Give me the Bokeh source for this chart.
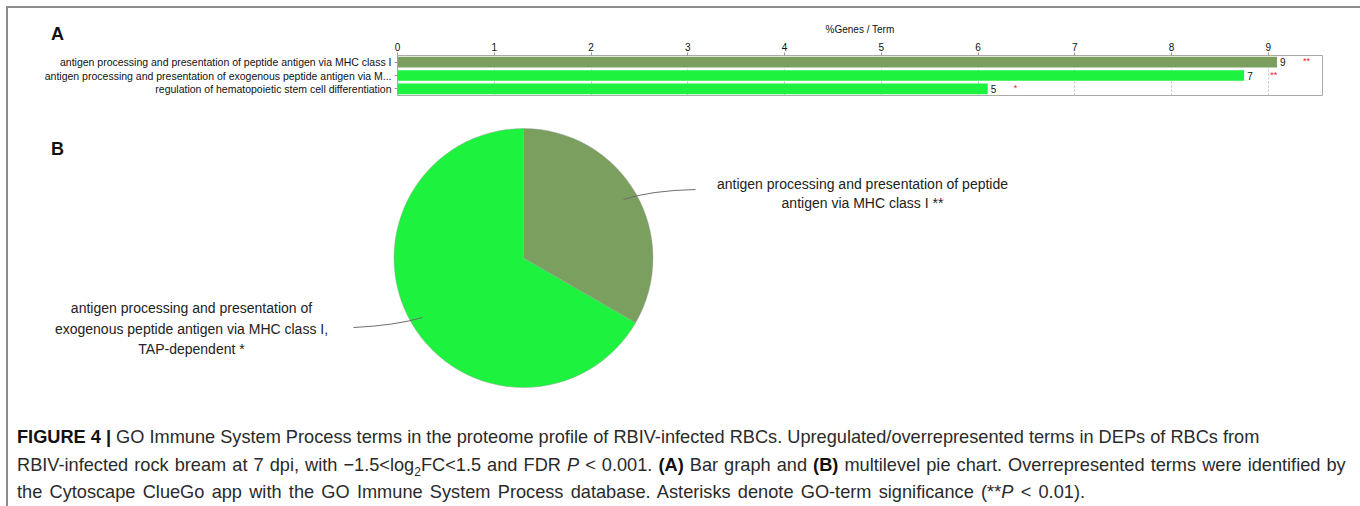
import numpy as np
from bokeh.plotting import figure
from bokeh.models import (ColumnDataSource, Range1d, FactorRange, LabelSet, Div)
from bokeh.layouts import column
from bokeh.core.properties import value
from bokeh.embed import file_html
from bokeh.resources import INLINE

# ---------------- data ----------------
terms = [
    "antigen processing and presentation of peptide antigen via MHC class I",
    "antigen processing and presentation of exogenous peptide antigen via M...",
    "regulation of hematopoietic stem cell differentiation",
]
pct_genes = [9.09, 8.75, 6.10]
gene_counts = ["9", "7", "5"]
signif = ["**", "**", "*"]
bar_colors = ["#7B9F5F", "#1DF23F"]  # group colours
term_group = [0, 1, 1]

pie_labels = [
    ["antigen processing and presentation of peptide", "antigen via MHC class I **"],
    ["antigen processing and presentation of", "exogenous peptide antigen via MHC class I,", "TAP-dependent *"],
]
pie_values = [1, 2]

FONT = value("Liberation Sans")
W = 1346

# ---------------- A: bar chart ----------------
src = ColumnDataSource(dict(
    term=terms, pct=pct_genes, count=gene_counts, sig=signif,
    color=[bar_colors[g] for g in term_group],
))

bar = figure(width=W, height=106, output_backend="svg", toolbar_location=None,
             y_range=FactorRange(*reversed(terms), range_padding=0),
             x_range=Range1d(0, 9.56), x_axis_location="above",
             min_border_left=389, min_border_right=32, min_border_top=47,
             min_border_bottom=19, border_fill_color=None)
bar.hbar(y="term", right="pct", height=0.8, color="color", line_color=None, source=src)
bar.add_layout(LabelSet(x="pct", y="term", text="count", x_offset=3, source=src,
                        text_baseline="middle", text_font=FONT,
                        text_font_size=value("10px"), text_color="#111"))
bar.add_layout(LabelSet(x="pct", y="term", text="sig", x_offset=26, y_offset=1, source=src,
                        text_baseline="middle", text_font=FONT,
                        text_font_size=value("9px"), text_color="#e8211f"))

xa = bar.xaxis[0]
xa.axis_label = "%Genes / Term"
xa.axis_label_text_font = "Liberation Sans"
xa.axis_label_text_font_size = "10px"
xa.axis_label_text_font_style = "normal"
xa.axis_label_text_color = "#111"
xa.axis_label_standoff = 5
xa.ticker.desired_num_ticks = 10
xa.major_label_text_font = "Liberation Sans"
xa.major_label_text_font_size = "10px"
xa.major_label_text_color = "#111"
xa.major_label_standoff = 2
xa.major_tick_in = 0
xa.major_tick_out = 3
xa.minor_tick_out = 0
xa.minor_tick_in = 0
xa.major_tick_line_color = "#999"
xa.axis_line_color = None

ya = bar.yaxis[0]
ya.major_label_text_font = "Liberation Sans"
ya.major_label_text_font_size = "10.5px"
ya.major_label_text_color = "#111"
ya.major_label_standoff = 3
ya.major_tick_in = 0
ya.major_tick_out = 3
ya.major_tick_line_color = "#999"
ya.axis_line_color = None

bar.xgrid.grid_line_color = "#c4c4c4"
bar.xgrid.grid_line_dash = "2 2"
bar.ygrid.grid_line_color = None
bar.outline_line_color = "#aaaaaa"
bar.outline_line_width = 1

# panel letter "A" (zero-height overlay above the bar chart)
panel_a = Div(width=W, height=0,
              styles={"position": "relative", "z-index": "5", "overflow": "visible",
                      "margin-bottom": "-5px"},
              text=("<div style=\"position:absolute;left:38px;top:11px;"
                    "font-family:'Liberation Sans',Arial,sans-serif;font-size:18px;"
                    "font-weight:bold;color:#111;line-height:20px\">A</div>"))

# ---------------- B: pie chart ----------------
H2 = 305
pie = figure(width=W, height=H2, output_backend="svg", toolbar_location=None,
             x_range=Range1d(0, W), y_range=Range1d(0, H2),
             min_border=0, outline_line_color=None)
pie.axis.visible = False
pie.grid.visible = False
for f in (bar, pie):
    try:
        f.frame_align = False
    except Exception:
        pass

vals = np.array(pie_values, dtype=float)
frac = np.cumsum(vals) / vals.sum()
start = np.pi / 2 - np.concatenate([[0], frac[:-1]]) * 2 * np.pi
end = np.pi / 2 - frac * 2 * np.pi
pie_src = ColumnDataSource(dict(start=start, end=end, color=bar_colors))
pie.wedge(x=515, y=161.5, radius=129.5, start_angle="start", end_angle="end",
          direction="clock", color="color", line_color="#9a9a9a", line_width=0.6,
          line_alpha=0.7, source=pie_src)

# leader lines
pie.quadratic(x0=[615, 414], y0=[220, 102], x1=[687, 345], y1=[230, 92],
              cx=[642, 387], cy=[229, 94], line_color="#6e6e6e", line_width=1)

# slice labels
lx = [854] * len(pie_labels[0]) + [183] * len(pie_labels[1])
ly = [236, 217] + [112, 91, 71]
lt = pie_labels[0] + pie_labels[1]
pie.text(x=lx, y=ly, text=lt, text_font=FONT, text_font_size=value("14px"),
         text_align="center", text_baseline="middle", text_color="#222")

pie.text(x=[49], y=[271], text=["B"], text_font=FONT, text_font_size=value("18px"),
         text_font_style="bold", text_align="center", text_baseline="middle",
         text_color="#111")

# ---------------- caption ----------------
cap = Div(width=W, text=(
    "<div style=\"font-family:'Liberation Sans',Arial,sans-serif;font-size:18.2px;"
    "line-height:27.5px;color:#2a2a2a;white-space:nowrap;padding-left:4px\">"
    "<span><b style='color:#111'>FIGURE 4 |</b> GO Immune System Process terms in the proteome profile of "
    "RBIV-infected RBCs. Upregulated/overrepresented terms in DEPs of RBCs from</span><br>"
    "<span style='word-spacing:1px'>RBIV-infected rock bream at 7 dpi, with \u22121.5&lt;log<sub style='font-size:12px;line-height:0'>2</sub>FC&lt;1.5 "
    "and FDR <i>P</i> &lt; 0.001. <b style='color:#111'>(A)</b> Bar graph and "
    "<b style='color:#111'>(B)</b> multilevel pie chart. Overrepresented terms were identified by</span><br>"
    "<span style='word-spacing:2.2px'>the Cytoscape ClueGo app with the GO Immune System Process database. Asterisks denote "
    "GO-term significance (**<i>P</i> &lt; 0.01).</span></div>"))

layout = column(panel_a, bar, pie, cap, spacing=0,
                styles={"border-left": "2px solid #8c8c8c",
                        "border-right": "2px solid #8c8c8c",
                        "border-top": "2px solid #8c8c8c",
                        "margin-left": "6px", "margin-top": "6px"})

open("out.html", "w").write(file_html(layout, INLINE))
